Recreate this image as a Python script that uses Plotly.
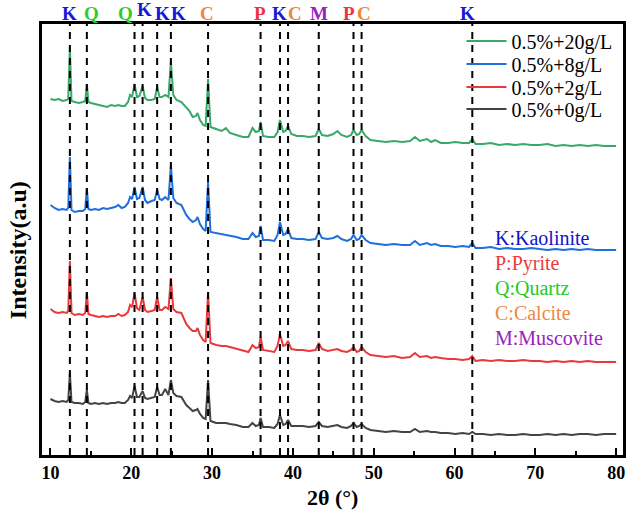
import plotly.graph_objects as go

# 2-theta sampling positions (degrees)
two_theta = [10.0, 10.5, 11.0, 11.5, 12.0, 12.2, 12.4, 12.6, 13.0, 13.5,
             14.0, 14.3, 14.5, 14.7, 15.0, 15.5, 16.0, 16.5, 17.0, 17.5,
             18.0, 18.4, 18.8, 19.2, 19.6, 19.85, 20.1, 20.4, 20.7, 21.0,
             21.4, 21.7, 22.0, 22.5, 22.9, 23.2, 23.5, 23.8, 24.2, 24.6,
             24.9, 25.2, 25.6, 26.2, 26.8, 27.2, 27.6, 28.0, 28.2, 28.5,
             28.9, 29.2, 29.5, 29.8, 30.5, 31.2, 31.7, 32.2, 33.0, 33.8,
             34.5, 35.0, 35.4, 35.8, 36.0, 36.3, 37.0, 37.7, 38.1, 38.4,
             38.8, 39.1, 39.4, 39.8, 40.5, 41.2, 42.0, 42.8, 43.2, 43.6,
             44.3, 45.0, 45.5, 46.0, 46.7, 47.2, 47.5, 47.9, 48.2, 48.5,
             49.0, 49.6, 50.5, 51.5, 52.5, 53.5, 54.5, 55.1, 55.7, 56.6,
             57.1, 57.6, 58.3, 59.2, 60.1, 61.0, 61.8, 62.2, 62.6, 63.5,
             64.5, 65.5, 66.5, 67.5, 68.5, 69.5, 70.5, 71.5, 72.5, 73.5,
             74.5, 75.5, 76.5, 77.5, 78.5, 79.3, 80.0]

int_20 = [356, 355, 356, 354, 355, 356, 408, 354, 353, 352,
          353, 354, 371, 353, 352, 351, 350, 349, 348, 350,
          349, 350, 349, 349, 353, 360, 358, 371, 358, 359,
          369, 357, 355, 355, 356, 368, 358, 358, 360, 358,
          394, 360, 355, 353, 348, 344, 338, 339, 342, 335,
          330, 329, 376, 328, 326, 324, 327, 322, 320, 318,
          318, 327, 323, 324, 333, 319, 318, 318, 323, 335,
          323, 324, 329, 321, 319, 319, 318, 319, 326, 320,
          319, 321, 324, 320, 318, 320, 325, 320, 321, 325,
          319, 315, 314, 313, 314, 313, 314, 318, 314, 316,
          313, 315, 312, 312, 313, 312, 312, 316, 311, 311,
          312, 310, 311, 310, 311, 310, 310, 311, 309, 310,
          309, 310, 309, 310, 309, 309, 309]

int_8 = [250, 247, 245, 246, 245, 247, 298, 245, 243, 244,
         244, 246, 267, 246, 245, 246, 245, 247, 246, 247,
         248, 250, 247, 248, 252, 258, 256, 268, 256, 257,
         268, 255, 252, 254, 255, 265, 256, 255, 258, 255,
         290, 257, 252, 250, 240, 236, 233, 235, 238, 231,
         226, 224, 273, 223, 222, 221, 220, 219, 218, 216,
         216, 222, 218, 219, 229, 215, 215, 214, 220, 233,
         220, 221, 226, 217, 216, 216, 215, 216, 223, 217,
         216, 217, 219, 216, 214, 216, 220, 215, 216, 220,
         215, 212, 211, 210, 211, 210, 210, 214, 210, 212,
         210, 211, 209, 209, 208, 209, 208, 212, 207, 207,
         208, 206, 207, 206, 206, 207, 206, 205, 206, 205,
         206, 205, 206, 205, 205, 205, 205]

int_2 = [146, 143, 142, 143, 142, 144, 194, 142, 140, 141,
         140, 142, 163, 141, 140, 139, 138, 139, 138, 139,
         139, 141, 139, 140, 143, 150, 148, 162, 147, 145,
         158, 145, 143, 144, 145, 158, 145, 145, 148, 146,
         177, 146, 143, 142, 131, 127, 124, 124, 127, 120,
         115, 113, 163, 112, 110, 109, 109, 108, 106, 104,
         103, 110, 107, 108, 118, 105, 104, 103, 109, 121,
         109, 110, 114, 106, 105, 105, 104, 105, 112, 106,
         104, 105, 106, 104, 103, 105, 108, 103, 104, 108,
         103, 100, 99, 98, 99, 97, 98, 102, 98, 99,
         97, 98, 97, 96, 96, 95, 96, 99, 94, 95,
         94, 95, 94, 94, 95, 94, 94, 93, 94, 93,
         94, 93, 94, 93, 93, 93, 93]

int_0 = [56, 54, 53, 54, 53, 55, 82, 53, 52, 52,
         51, 53, 65, 52, 51, 52, 51, 52, 51, 52,
         52, 53, 52, 52, 55, 59, 57, 69, 58, 58,
         64, 57, 56, 57, 58, 68, 60, 60, 66, 60,
         75, 62, 59, 58, 50, 47, 44, 45, 46, 41,
         37, 36, 75, 34, 32, 32, 32, 31, 30, 28,
         28, 32, 29, 30, 37, 28, 28, 27, 31, 40,
         30, 31, 35, 29, 29, 29, 28, 29, 33, 29,
         28, 29, 30, 28, 27, 29, 32, 28, 29, 31,
         27, 25, 24, 23, 24, 23, 23, 26, 23, 24,
         23, 23, 22, 22, 21, 22, 21, 23, 21, 21,
         20, 21, 20, 20, 21, 20, 20, 21, 20, 21,
         20, 21, 21, 20, 21, 21, 21]

series_names = ["0.5%+0g/L", "0.5%+2g/L", "0.5%+8g/L", "0.5%+20g/L"]
series_values = [int_0, int_2, int_8, int_20]
series_colors = ["#444444", "#e8393c", "#1f6fdc", "#3aa86a"]
series_legend_ids = ["legend4", "legend3", "legend2", "legend"]

# reference peak lines (2-theta) and phase labels
peak_lines = [12.4, 14.5, 20.4, 21.4, 23.2, 24.9, 29.5, 36.0, 38.4, 39.4,
              43.2, 47.5, 48.5, 62.2]
peak_label_text = ["K", "Q", "Q", "K", "K", "K", "C", "P", "K", "C",
                   "M", "P", "C", "K"]
peak_label_pos = [12.4, 15.1, 19.3, 21.6, 23.8, 25.8, 29.4, 35.9, 38.4, 40.2,
                  43.2, 47.0, 48.8, 61.6]
peak_label_raised = [False, False, False, True, False, False, False, False,
                     False, False, False, False, False, False]

phase_colors = {"K": "#1818d8", "Q": "#2ecc2e", "C": "#ee8838",
                "P": "#ee3340", "M": "#9a22c4"}
phase_legend = ["K:Kaolinite", "P:Pyrite", "Q:Quartz", "C:Calcite", "M:Muscovite"]
phase_legend_colors = ["#1212cc", "#ee3a3a", "#22cc22", "#ee8844", "#9a22bb"]

FONT = "Liberation Serif"
PLOT_TOP, PLOT_H = 24, 431


def paper_y(px):
    return (PLOT_TOP + PLOT_H - px) / PLOT_H


fig = go.Figure()
for name, vals, col, lg in zip(series_names, series_values, series_colors, series_legend_ids):
    fig.add_trace(go.Scatter(x=two_theta, y=vals, mode="lines", name=name,
                             line=dict(color=col, width=2), legend=lg))

for xv in peak_lines:
    fig.add_shape(type="line", xref="x", yref="paper", x0=xv, x1=xv, y0=0, y1=1,
                  line=dict(color="black", width=2, dash="7px,6px"), layer="above")

for txt, xp, raised in zip(peak_label_text, peak_label_pos, peak_label_raised):
    fig.add_annotation(x=xp, xref="x", y=paper_y(10 if raised else 14), yref="paper",
                       text="<b>%s</b>" % txt, showarrow=False,
                       font=dict(family=FONT, size=19, color=phase_colors[txt]),
                       xanchor="center", yanchor="middle")

for i, (txt, col) in enumerate(zip(phase_legend, phase_legend_colors)):
    fig.add_annotation(x=0.776, xref="paper", y=paper_y(238 + 25 * i), yref="paper",
                       text=txt, showarrow=False, xanchor="left", yanchor="middle",
                       font=dict(family=FONT, size=20, color=col))

fig.add_annotation(x=0.5, xref="paper", y=paper_y(497), yref="paper", text="<b>2θ (°)</b>",
                   showarrow=False, xanchor="center", yanchor="middle",
                   font=dict(family=FONT, size=22, color="black"))
fig.add_annotation(x=-0.041, xref="paper", y=paper_y(250), yref="paper", text="<b>Intensity(a.u)</b>",
                   showarrow=False, xanchor="center", yanchor="middle", textangle=-90,
                   font=dict(family=FONT, size=24, color="black"))

legend_common = dict(x=0.722, xanchor="left", yanchor="middle", bgcolor="rgba(0,0,0,0)",
                     font=dict(family=FONT, size=20, color="black"), itemwidth=40)
legend_rows = [41, 64, 87, 109]

fig.update_layout(
    width=629, height=520,
    margin=dict(l=42, r=3, t=24, b=65),
    paper_bgcolor="white", plot_bgcolor="white",
    showlegend=True,
    legend=dict(y=paper_y(legend_rows[0]), **legend_common),
    legend2=dict(y=paper_y(legend_rows[1]), **legend_common),
    legend3=dict(y=paper_y(legend_rows[2]), **legend_common),
    legend4=dict(y=paper_y(legend_rows[3]), **legend_common),
    xaxis=dict(range=[8.95, 80.85], showgrid=False, zeroline=False,
               showline=True, linecolor="black", linewidth=2.5, mirror=True,
               tickmode="array", tickvals=[10, 20, 30, 40, 50, 60, 70, 80],
               ticks="inside", ticklen=7, tickwidth=2, tickcolor="black",
               ticklabeloverflow="allow",
               minor=dict(tickvals=[15, 25, 35, 45, 55, 65, 75], ticks="inside",
                          ticklen=4, tickwidth=2, tickcolor="black"),
               tickfont=dict(family=FONT, size=18, color="black", weight="bold")),
    yaxis=dict(range=[0, 431], showgrid=False, zeroline=False, showticklabels=False,
               showline=True, linecolor="black", linewidth=2.5, mirror=True, ticks=""),
)

fig.write_html("out.html", config={"displayModeBar": False},
               post_script="document.body.style.margin='0';")
